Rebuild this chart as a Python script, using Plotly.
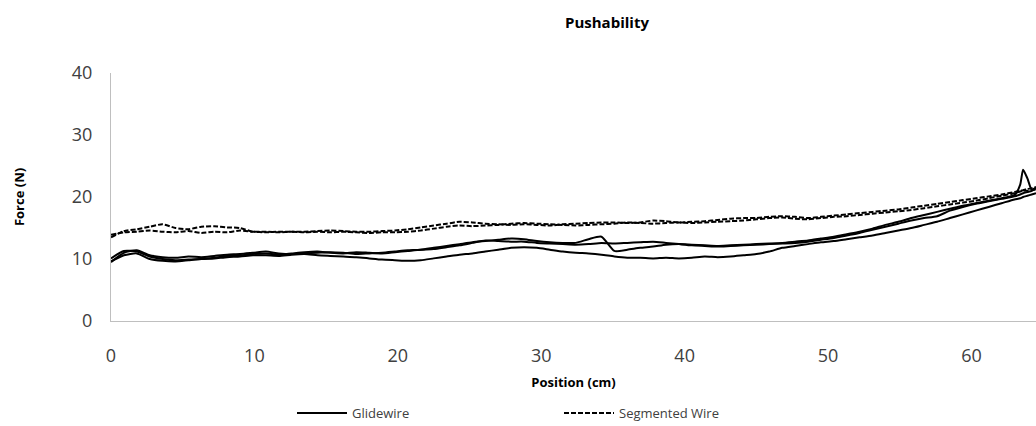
import plotly.graph_objects as go

position_cm = [0.0, 0.9, 1.8, 2.7, 3.6, 4.5, 5.4, 6.3, 7.2, 8.1,
               9.0, 9.9, 10.8, 11.7, 12.6, 13.5, 14.4, 15.3, 16.2, 17.1,
               18.0, 18.9, 19.8, 20.7, 21.6, 22.5, 23.4, 24.3, 25.2, 26.1,
               27.0, 27.9, 28.8, 29.7, 30.6, 31.5, 32.4, 33.3, 34.2, 35.1,
               36.0, 36.9, 37.8, 38.7, 39.6, 40.5, 41.4, 42.3, 43.2, 44.1,
               45.0, 45.9, 46.8, 47.7, 48.6, 49.5, 50.4, 51.3, 52.2, 53.1,
               54.0, 54.9, 55.8, 56.7, 57.6, 58.5, 59.4, 60.3, 61.2, 62.1,
               63.0, 63.4, 63.6, 63.9, 64.2, 64.5]

glidewire_1 = [9.5, 11.0, 11.4, 10.6, 10.3, 10.2, 10.4, 10.3, 10.5, 10.7,
               10.8, 11.0, 11.2, 10.9, 10.8, 10.9, 11.0, 11.1, 11.0, 10.8,
               10.9, 11.0, 11.2, 11.4, 11.5, 11.8, 12.1, 12.4, 12.7, 12.9,
               13.1, 13.3, 13.2, 12.9, 12.7, 12.6, 12.6, 13.2, 13.6, 11.3,
               11.5, 11.8, 12.0, 12.3, 12.4, 12.3, 12.2, 12.1, 12.2, 12.3,
               12.4, 12.5, 12.6, 12.8, 13.0, 13.3, 13.6, 14.0, 14.4, 14.9,
               15.5, 16.0, 16.6, 17.1, 17.6, 18.1, 18.6, 19.0, 19.4, 19.8,
               20.3, 22.0, 24.4, 23.0, 21.2, 21.5]
glidewire_2 = [10.1, 11.3, 11.2, 10.4, 10.0, 9.8, 9.9, 10.0, 10.2, 10.5,
               10.6, 10.8, 10.9, 10.7, 10.9, 11.1, 11.2, 11.0, 10.9, 11.1,
               11.0, 10.9, 11.1, 11.3, 11.5, 11.6, 11.9, 12.2, 12.6, 13.0,
               12.9, 12.8, 12.8, 12.6, 12.5, 12.4, 12.3, 12.4, 12.6, 12.5,
               12.6, 12.7, 12.8, 12.6, 12.4, 12.2, 12.1, 12.0, 12.1, 12.2,
               12.3, 12.4, 12.5, 12.6, 12.8, 13.1, 13.4, 13.8, 14.2, 14.7,
               15.2, 15.7, 16.2, 16.6, 16.9, 17.8, 18.4, 18.9, 19.3, 19.7,
               20.1, 20.4, 20.6, 20.8, 21.0, 21.4]
glidewire_3 = [9.6, 10.6, 10.9, 10.0, 9.7, 9.6, 9.8, 10.0, 10.1, 10.3,
               10.4, 10.6, 10.6, 10.5, 10.7, 10.8, 10.6, 10.5, 10.4, 10.3,
               10.1, 9.9, 9.8, 9.7, 9.8, 10.1, 10.4, 10.7, 10.9, 11.2,
               11.5, 11.8, 11.9, 11.8, 11.5, 11.2, 11.0, 10.9, 10.7, 10.4,
               10.2, 10.2, 10.1, 10.2, 10.1, 10.2, 10.4, 10.3, 10.4, 10.6,
               10.8, 11.2, 11.8, 12.1, 12.4, 12.7, 12.9, 13.2, 13.5, 13.8,
               14.2, 14.6, 15.0, 15.5, 16.0, 16.6, 17.2, 17.8, 18.4, 19.0,
               19.6, 19.8, 20.0, 20.2, 20.4, 20.6]
segmented_1 = [13.5, 14.5, 14.8, 15.2, 15.6, 15.0, 14.8, 15.2, 15.3, 15.1,
               15.0, 14.4, 14.4, 14.3, 14.4, 14.4, 14.5, 14.6, 14.5, 14.4,
               14.4, 14.5, 14.6, 14.8, 15.1, 15.4, 15.7, 16.0, 15.9, 15.7,
               15.6, 15.5, 15.6, 15.5, 15.4, 15.6, 15.7, 15.8, 15.9, 15.9,
               15.8, 15.9, 16.2, 16.1, 15.9, 16.0, 16.1, 16.3, 16.5, 16.6,
               16.6, 16.8, 16.9, 16.8, 16.6, 16.8, 17.0, 17.2, 17.4, 17.6,
               17.8, 18.0, 18.3, 18.6, 18.9, 19.2, 19.5, 19.8, 20.1, 20.4,
               20.8, 21.0, 21.1, 21.3, 21.4, 21.6]
segmented_2 = [13.9, 14.3, 14.4, 14.6, 14.4, 14.3, 14.5, 14.2, 14.4, 14.3,
               14.6, 14.4, 14.3, 14.4, 14.4, 14.3, 14.4, 14.3, 14.4, 14.3,
               14.2, 14.3, 14.3, 14.4, 14.6, 14.9, 15.2, 15.4, 15.3, 15.4,
               15.5, 15.7, 15.8, 15.7, 15.6, 15.5, 15.4, 15.5, 15.6, 15.7,
               15.9, 15.8, 15.7, 15.8, 15.9, 15.8, 15.9, 16.0, 16.1, 16.2,
               16.4, 16.6, 16.7, 16.5, 16.4, 16.6, 16.8, 16.9, 17.1, 17.3,
               17.5, 17.7, 17.9, 18.2, 18.5, 18.8, 19.1, 19.4, 19.8, 20.2,
               20.6, 20.9, 21.0, 21.0, 21.1, 21.2]

series = [
    ("Glidewire", glidewire_1, "solid", True),
    ("Glidewire 2", glidewire_2, "solid", False),
    ("Glidewire 3", glidewire_3, "solid", False),
    ("Segmented Wire", segmented_1, "5px,2px", True),
    ("Segmented Wire 2", segmented_2, "5px,2px", False),
]

FONT = "Open Sans"
fig = go.Figure()
for name, ys, dash, show in series:
    fig.add_trace(go.Scatter(
        x=position_cm, y=ys, mode="lines", name=name, showlegend=show,
        line=dict(color="black", width=2, dash=dash, shape="spline", smoothing=0.6),
    ))

fig.update_layout(
    width=1036, height=426,
    margin=dict(l=111, r=0, t=73, b=105),
    paper_bgcolor="white", plot_bgcolor="white",
    font=dict(family=FONT, color="#404040"),
    title=dict(text="<b>Pushability</b>", x=607 / 1036, xanchor="center", xref="container",
               y=1 - 23 / 426, yanchor="middle", yref="container",
               font=dict(family=FONT, size=15, color="black")),
    showlegend=True,
    legend=dict(orientation="h", xref="container", yref="container",
                x=292 / 1036, xanchor="left", y=1 - 413 / 426, yanchor="middle",
                font=dict(family=FONT, size=13, color="#404040"),
                entrywidth=202, entrywidthmode="pixels", itemwidth=50,
                bgcolor="rgba(0,0,0,0)"),
)
fig.update_xaxes(
    range=[0, 64.5], dtick=10, tick0=0, showgrid=False, zeroline=False,
    showline=True, linecolor="#bfbfbf", linewidth=1, ticks="",
    ticklabelstandoff=18,
    tickfont=dict(family=FONT, size=18, color="#404040"),
    title=dict(text="<b>Position (cm)</b>", standoff=12,
               font=dict(family=FONT, size=13, color="black")),
)
fig.update_yaxes(
    range=[0, 40], dtick=10, tick0=0, showgrid=False, zeroline=False,
    showline=True, linecolor="#bfbfbf", linewidth=1, ticks="",
    ticklabelstandoff=14,
    tickfont=dict(family=FONT, size=18, color="#404040"),
    title=dict(text="<b>Force (N)</b>", standoff=44,
               font=dict(family=FONT, size=13, color="black")),
)

fig.write_html("out.html")
